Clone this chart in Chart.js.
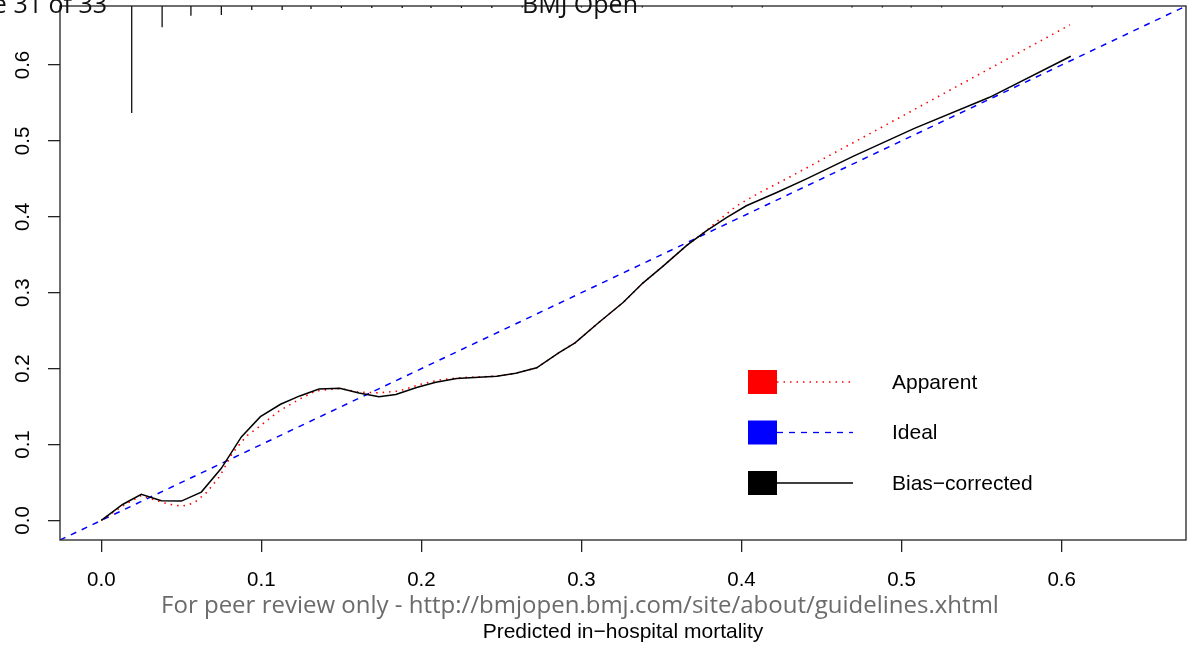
<!DOCTYPE html>
<html>
<head>
<meta charset="utf-8">
<script src="https://cdn.jsdelivr.net/npm/chart.js@4.4.1/dist/chart.umd.min.js"></script>
<style>
  html, body { margin: 0; padding: 0; background: #fff; }
  #wrap { position: relative; width: 1191px; height: 645px; }
</style>
</head>
<body>
<div id="wrap"><canvas id="calib" width="1191" height="645"></canvas></div>
<script>
// ===== DATA =====
const axisMin = -0.0258;
const axisMax = 0.6777;
const xTicks = [0, 0.1, 0.2, 0.3, 0.4, 0.5, 0.6];
const yTicks = [0, 0.1, 0.2, 0.3, 0.4, 0.5, 0.6];

// bias-corrected calibration curve
const biasX = [0, 0.0133, 0.025, 0.0375, 0.05, 0.0625, 0.075, 0.0875, 0.0994, 0.112, 0.124, 0.136, 0.149, 0.161, 0.1735, 0.184, 0.197, 0.209, 0.222, 0.247, 0.259, 0.272, 0.286, 0.296, 0.311, 0.326, 0.3385, 0.351, 0.3656, 0.378, 0.3906, 0.403, 0.422, 0.4406, 0.47, 0.508, 0.555, 0.6057];
const biasY = [0, 0.021, 0.0343, 0.026, 0.0255, 0.0373, 0.0686, 0.11, 0.1367, 0.153, 0.164, 0.173, 0.174, 0.168, 0.163, 0.166, 0.175, 0.182, 0.187, 0.19, 0.194, 0.201, 0.221, 0.234, 0.261, 0.287, 0.313, 0.335, 0.362, 0.3815, 0.399, 0.4145, 0.432, 0.45, 0.48, 0.5165, 0.5574, 0.6115];

// apparent calibration curve
const apparentX = [0, 0.0133, 0.025, 0.0375, 0.046, 0.051, 0.058, 0.0656, 0.074, 0.082, 0.0906, 0.099, 0.111, 0.124, 0.134, 0.149, 0.161, 0.1735, 0.186, 0.199, 0.211, 0.224, 0.247, 0.259, 0.272, 0.286, 0.296, 0.311, 0.326, 0.3385, 0.351, 0.3656, 0.378, 0.384, 0.397, 0.4114, 0.428, 0.499, 0.6052];
const apparentY = [0, 0.019, 0.033, 0.024, 0.0198, 0.019, 0.023, 0.0365, 0.058, 0.089, 0.111, 0.124, 0.144, 0.16, 0.1705, 0.174, 0.169, 0.168, 0.1705, 0.179, 0.185, 0.188, 0.19, 0.194, 0.201, 0.221, 0.234, 0.261, 0.287, 0.313, 0.335, 0.362, 0.3815, 0.3926, 0.4145, 0.432, 0.45, 0.531, 0.6528];

// distribution of predictions (spikes hanging from the top axis)
const rugX = [0.019, 0.038, 0.056, 0.075, 0.094, 0.113, 0.131, 0.150, 0.169, 0.188, 0.206, 0.225, 0.244, 0.263, 0.281, 0.300, 0.319, 0.338, 0.394, 0.413, 0.469, 0.488, 0.506, 0.525, 0.563, 0.619];
const rugH = [0.141, 0.028, 0.013, 0.012, 0.0053, 0.0053, 0.004, 0.0026, 0.0026, 0.0026, 0.0026, 0.0026, 0.0026, 0.002, 0.002, 0.002, 0.002, 0.002, 0.002, 0.002, 0.002, 0.002, 0.002, 0.002, 0.002, 0.002];

const legendLabels = ['Apparent', 'Ideal', 'Bias\u2212corrected'];
const legendColors = ['#ff0000', '#0000ff', '#000000'];
const legendDash = [[1.5, 5], [6, 6], []];

// ===== BUILD =====
const pairs = (xs, ys) => xs.map((x, i) => ({ x, y: ys[i] }));
const rugPoints = [];
rugX.forEach((x, i) => {
  rugPoints.push({ x, y: axisMax }, { x, y: axisMax - rugH[i] }, { x, y: null });
});

const FONT = '"Liberation Sans", Arial, Helvetica, sans-serif';
const PAGE_FONT = '"Open Sans", "Noto Sans", sans-serif';

const decor = {
  id: 'decor',
  afterDraw(chart) {
    const { ctx, chartArea: a, scales } = chart;
    ctx.save();
    // box
    ctx.strokeStyle = '#222';
    ctx.lineWidth = 1.3;
    ctx.strokeRect(a.left, a.top, a.right - a.left, a.bottom - a.top);

    // y tick labels, rotated like R
    ctx.fillStyle = '#000';
    ctx.font = '20.5px ' + FONT;
    ctx.textAlign = 'center';
    ctx.textBaseline = 'middle';
    yTicks.forEach(v => {
      const py = scales.y.getPixelForValue(v);
      ctx.save();
      ctx.translate(23, py);
      ctx.rotate(-Math.PI / 2);
      ctx.fillText(v.toFixed(1), 0, 0);
      ctx.restore();
    });

    // axis title
    ctx.font = '21px ' + FONT;
    ctx.fillText('Predicted in\u2212hospital mortality', (a.left + a.right) / 2, 632);

    // page footer / header from the source pdf
    ctx.fillStyle = '#6b6b6b';
    ctx.font = '24px ' + PAGE_FONT;
    ctx.textBaseline = 'alphabetic';
    ctx.fillText('For peer review only - http://bmjopen.bmj.com/site/about/guidelines.xhtml', 580, 613);
    ctx.fillStyle = '#111';
    ctx.font = '25px ' + PAGE_FONT;
    ctx.textAlign = 'right';
    ctx.fillText('Page 31 of 33', 107, 13);
    ctx.textAlign = 'center';
    ctx.fillText('BMJ Open', 580, 13);

    // legend
    ctx.textAlign = 'left';
    ctx.textBaseline = 'middle';
    ctx.font = '21px ' + FONT;
    legendLabels.forEach((lab, i) => {
      const cy = 382 + i * 50.5;
      ctx.fillStyle = legendColors[i];
      ctx.fillRect(748, cy - 12, 29, 24);
      ctx.strokeStyle = legendColors[i];
      ctx.lineWidth = 1.3;
      ctx.setLineDash(legendDash[i]);
      ctx.beginPath();
      ctx.moveTo(777, cy);
      ctx.lineTo(853, cy);
      ctx.stroke();
      ctx.setLineDash([]);
      ctx.fillStyle = '#000';
      ctx.fillText(lab, 892, cy + 1);
    });
    ctx.restore();
  }
};

new Chart(document.getElementById('calib'), {
  type: 'scatter',
  data: {
    datasets: [
      {
        label: 'Bias-corrected',
        data: pairs(biasX, biasY),
        showLine: true,
        borderColor: '#000',
        borderWidth: 1.5,
        pointRadius: 0,
        order: 1,
      },
      {
        label: 'Apparent',
        data: pairs(apparentX, apparentY),
        showLine: true,
        borderColor: '#ff0000',
        borderWidth: 1.6,
        borderDash: [1.5, 5],
        pointRadius: 0,
        order: 2,
      },
      {
        label: 'Ideal',
        data: [{ x: axisMin, y: axisMin }, { x: axisMax, y: axisMax }],
        showLine: true,
        borderColor: '#0000ff',
        borderWidth: 1.5,
        borderDash: [6, 6],
        pointRadius: 0,
        order: 3,
      },
      {
        label: 'rug',
        data: rugPoints,
        showLine: true,
        spanGaps: false,
        borderColor: '#111',
        borderWidth: 1.3,
        pointRadius: 0,
        order: 0,
      },
    ]
  },
  options: {
    responsive: false,
    animation: false,
    devicePixelRatio: 1,
    layout: { padding: { top: 6, right: 5, left: 0, bottom: 0 } },
    plugins: { legend: { display: false }, tooltip: { enabled: false } },
    scales: {
      x: {
        type: 'linear',
        min: axisMin,
        max: axisMax,
        afterBuildTicks: s => { s.ticks = xTicks.map(v => ({ value: v })); },
        afterFit: s => { s.height = 105; },
        border: { display: false },
        grid: { drawOnChartArea: false, drawTicks: true, tickLength: 12, color: '#222', lineWidth: 1.3 },
        ticks: {
          color: '#000',
          font: { family: FONT, size: 20.5 },
          padding: 16,
          maxRotation: 0,
          callback: v => Number(v).toFixed(1),
        },
      },
      y: {
        type: 'linear',
        min: axisMin,
        max: axisMax,
        afterBuildTicks: s => { s.ticks = yTicks.map(v => ({ value: v })); },
        afterFit: s => { s.width = 60; },
        border: { display: false },
        grid: { drawOnChartArea: false, drawTicks: true, tickLength: 12, color: '#222', lineWidth: 1.3 },
        ticks: { display: false },
      },
    },
  },
  plugins: [decor],
});
</script>
</body>
</html>
